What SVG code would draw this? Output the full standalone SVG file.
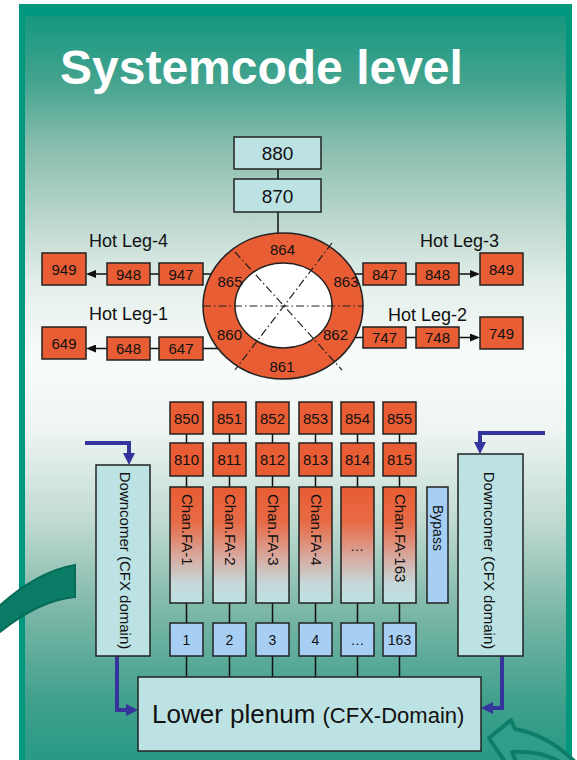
<svg xmlns="http://www.w3.org/2000/svg" width="577" height="760" viewBox="0 0 577 760">
<defs>
<linearGradient id="bg" gradientUnits="userSpaceOnUse" x1="0" y1="16" x2="0" y2="760">
<stop offset="0" stop-color="#16977f"/>
<stop offset="0.09" stop-color="#45a48f"/>
<stop offset="0.17" stop-color="#86bcad"/>
<stop offset="0.26" stop-color="#b4d3c9"/>
<stop offset="0.36" stop-color="#e4efeb"/>
<stop offset="0.46" stop-color="#f8fbfa"/>
<stop offset="0.55" stop-color="#f0f6f4"/>
<stop offset="0.68" stop-color="#c0dad1"/>
<stop offset="0.8" stop-color="#7cb7a8"/>
<stop offset="0.92" stop-color="#40a08c"/>
<stop offset="1" stop-color="#289a85"/>
</linearGradient>
<linearGradient id="chan" x1="0" y1="0" x2="0" y2="1">
<stop offset="0" stop-color="#e85d33"/>
<stop offset="0.3" stop-color="#e76a45"/>
<stop offset="0.6" stop-color="#d8a89e"/>
<stop offset="0.82" stop-color="#c6d6d6"/>
<stop offset="1" stop-color="#bde2e4"/>
</linearGradient>
<marker id="blk" viewBox="0 0 10 8" refX="1" refY="4" markerWidth="10" markerHeight="8" markerUnits="userSpaceOnUse" orient="auto">
<path d="M0,0 L10,4 L0,8 z" fill="#111"/>
</marker>
<marker id="blu" viewBox="0 0 12 12" refX="2" refY="6" markerWidth="12" markerHeight="12" markerUnits="userSpaceOnUse" orient="auto">
<path d="M0,0 L12,6 L0,12 z" fill="#34349c"/>
</marker>
<style>
text{font-family:"Liberation Sans",Arial,sans-serif;fill:#111}
.or{fill:#e85d34;stroke:#222;stroke-width:1.5}
.cy{fill:#bde2e4;stroke:#222;stroke-width:1.5}
.lb{fill:#a7cff4;stroke:#222;stroke-width:1.5}
.ch{fill:url(#chan);stroke:#222;stroke-width:1.5}
.n15{font-size:15px;text-anchor:middle}
.n14{font-size:14px;text-anchor:middle}
.lbl{font-size:18px}
.ln{stroke:#111;stroke-width:1.5;fill:none}
.dd{stroke:#222;stroke-width:1.2;stroke-dasharray:8 3 1.5 3;fill:none}
.bl{stroke:#34349c;stroke-width:4;fill:none;marker-end:url(#blu)}
.vt{font-size:15px}
</style>
</defs>
<rect x="0" y="0" width="577" height="760" fill="#ffffff"/>
<rect x="19" y="4" width="553" height="770" fill="#00977f"/>
<rect x="25" y="16" width="541" height="760" fill="url(#bg)"/>
<text x="60" y="84" style="font-size:48px;font-weight:bold;fill:#ffffff">Systemcode level</text>

<g id="connectors">
<path class="ln" d="M278,169 V179 M278,212 V233"/>
<path class="ln" d="M203,274 H211 M150,274 H159"/>
<path class="ln" d="M107,274 H95" marker-end="url(#blk)"/>
<path class="ln" d="M203,348.5 H218 M150,348.5 H159"/>
<path class="ln" d="M107,348.5 H95" marker-end="url(#blk)"/>
<path class="ln" d="M355,274 H363 M406,274 H416"/>
<path class="ln" d="M459,274 H471" marker-end="url(#blk)"/>
<path class="ln" d="M355,337.5 H363 M406,337.5 H416"/>
<path class="ln" d="M459,337.5 H471" marker-end="url(#blk)"/>
<path class="ln" d="M186.5,434 V443 M186.5,476 V487 M186.5,603 V623 M186.5,656 V677"/>
<path class="ln" d="M229.5,434 V443 M229.5,476 V487 M229.5,603 V623 M229.5,656 V677"/>
<path class="ln" d="M272.5,434 V443 M272.5,476 V487 M272.5,603 V623 M272.5,656 V677"/>
<path class="ln" d="M315.5,434 V443 M315.5,476 V487 M315.5,603 V623 M315.5,656 V677"/>
<path class="ln" d="M357.5,434 V443 M357.5,476 V487 M357.5,603 V623 M357.5,656 V677"/>
<path class="ln" d="M399.5,434 V443 M399.5,476 V487 M399.5,603 V623 M399.5,656 V677"/>
<path class="bl" d="M85,443 H129 V455"/>
<path class="bl" d="M545,433 H480 V444"/>
<path class="bl" d="M117,656 V710 H128"/>
<path class="bl" d="M502,656 V708 H491"/>
</g>

<g id="n880"><rect class="cy" x="234" y="137" width="87" height="32"/><text class="n15" x="277.5" y="160" style="font-size:19px">880</text></g>
<g id="n870"><rect class="cy" x="234" y="179" width="87" height="33"/><text class="n15" x="277.5" y="202.5" style="font-size:19px">870</text></g>

<g id="ring">
<ellipse cx="283" cy="306" rx="80" ry="73" fill="#e85d34" stroke="#222" stroke-width="1.5"/>
<ellipse cx="283.5" cy="305.5" rx="48.5" ry="42.5" fill="#ffffff" stroke="#222" stroke-width="1.5"/>
<path class="dd" d="M203,306 H363 M235,252 L342,370 M332,243 L235,370"/>
<text class="n15" x="282.5" y="255">864</text>
<text class="n15" x="230" y="287">865</text>
<text class="n15" x="346" y="287">863</text>
<text class="n15" x="229.5" y="340">860</text>
<text class="n15" x="335.5" y="340">862</text>
<text class="n15" x="282" y="372">861</text>
</g>

<text class="lbl" x="89" y="247">Hot Leg-4</text>
<text class="lbl" x="89" y="320">Hot Leg-1</text>
<text class="lbl" x="420" y="247">Hot Leg-3</text>
<text class="lbl" x="388" y="321">Hot Leg-2</text>

<g id="n949"><rect class="or" x="42" y="253" width="44" height="32"/><text class="n15" x="64" y="274.5">949</text></g>
<g id="n948"><rect class="or" x="107" y="263" width="43" height="22"/><text class="n15" x="128.5" y="279.5">948</text></g>
<g id="n947"><rect class="or" x="159" y="263" width="44" height="22"/><text class="n15" x="181" y="279.5">947</text></g>
<g id="n649"><rect class="or" x="42" y="327" width="44" height="32"/><text class="n15" x="64" y="348.5">649</text></g>
<g id="n648"><rect class="or" x="107" y="337" width="43" height="23"/><text class="n15" x="128.5" y="354">648</text></g>
<g id="n647"><rect class="or" x="159" y="337" width="44" height="23"/><text class="n15" x="181" y="354">647</text></g>
<g id="n847"><rect class="or" x="363" y="263" width="43" height="22"/><text class="n15" x="384.5" y="279.5">847</text></g>
<g id="n848"><rect class="or" x="416" y="263" width="43" height="22"/><text class="n15" x="437.5" y="279.5">848</text></g>
<g id="n849"><rect class="or" x="480" y="253" width="43" height="32"/><text class="n15" x="501.5" y="274.5">849</text></g>
<g id="n747"><rect class="or" x="363" y="327" width="43" height="21"/><text class="n15" x="384.5" y="343">747</text></g>
<g id="n748"><rect class="or" x="416" y="327" width="43" height="21"/><text class="n15" x="437.5" y="343">748</text></g>
<g id="n749"><rect class="or" x="480" y="317" width="43" height="32"/><text class="n15" x="501.5" y="338.5">749</text></g>

<g id="n850"><rect class="or" x="170" y="402" width="33" height="32"/><text class="n15" x="186.5" y="423.5">850</text></g>
<g id="n851"><rect class="or" x="213" y="402" width="33" height="32"/><text class="n15" x="229.5" y="423.5">851</text></g>
<g id="n852"><rect class="or" x="256" y="402" width="33" height="32"/><text class="n15" x="272.5" y="423.5">852</text></g>
<g id="n853"><rect class="or" x="299" y="402" width="33" height="32"/><text class="n15" x="315.5" y="423.5">853</text></g>
<g id="n854"><rect class="or" x="341" y="402" width="33" height="32"/><text class="n15" x="357.5" y="423.5">854</text></g>
<g id="n855"><rect class="or" x="383" y="402" width="33" height="32"/><text class="n15" x="399.5" y="423.5">855</text></g>

<g id="n810"><rect class="or" x="170" y="443" width="33" height="33"/><text class="n15" x="186.5" y="465">810</text></g>
<g id="n811"><rect class="or" x="213" y="443" width="33" height="33"/><text class="n15" x="229.5" y="465">811</text></g>
<g id="n812"><rect class="or" x="256" y="443" width="33" height="33"/><text class="n15" x="272.5" y="465">812</text></g>
<g id="n813"><rect class="or" x="299" y="443" width="33" height="33"/><text class="n15" x="315.5" y="465">813</text></g>
<g id="n814"><rect class="or" x="341" y="443" width="33" height="33"/><text class="n15" x="357.5" y="465">814</text></g>
<g id="n815"><rect class="or" x="383" y="443" width="33" height="33"/><text class="n15" x="399.5" y="465">815</text></g>

<g id="chan1"><rect class="ch" x="170" y="487" width="33" height="116"/><text class="vt" transform="translate(182,494) rotate(90)">Chan.FA-1</text></g>
<g id="chan2"><rect class="ch" x="213" y="487" width="33" height="116"/><text class="vt" transform="translate(225,494) rotate(90)">Chan.FA-2</text></g>
<g id="chan3"><rect class="ch" x="256" y="487" width="33" height="116"/><text class="vt" transform="translate(268,494) rotate(90)">Chan.FA-3</text></g>
<g id="chan4"><rect class="ch" x="299" y="487" width="33" height="116"/><text class="vt" transform="translate(311,494) rotate(90)">Chan.FA-4</text></g>
<g id="chan5"><rect class="ch" x="341" y="487" width="33" height="116"/><text class="n14" x="357" y="551">…</text></g>
<g id="chan163"><rect class="ch" x="383" y="487" width="33" height="116"/><text class="vt" transform="translate(395,494) rotate(90)">Chan.FA-163</text></g>

<g id="bypass"><rect class="lb" x="427" y="487" width="21" height="116"/><text style="font-size:14px" transform="translate(433,505) rotate(90)">Bypass</text></g>

<g id="b1"><rect class="lb" x="170" y="623" width="33" height="33"/><text class="n14" x="186.5" y="644.5">1</text></g>
<g id="b2"><rect class="lb" x="213" y="623" width="33" height="33"/><text class="n14" x="229.5" y="644.5">2</text></g>
<g id="b3"><rect class="lb" x="256" y="623" width="33" height="33"/><text class="n14" x="272.5" y="644.5">3</text></g>
<g id="b4"><rect class="lb" x="299" y="623" width="33" height="33"/><text class="n14" x="315.5" y="644.5">4</text></g>
<g id="b5"><rect class="lb" x="341" y="623" width="33" height="33"/><text class="n14" x="357.5" y="644.5">…</text></g>
<g id="b163"><rect class="lb" x="383" y="623" width="33" height="33"/><text class="n14" x="399.5" y="644.5">163</text></g>

<g id="downcomerL"><rect class="cy" x="96" y="465" width="54" height="191"/><text class="vt" text-anchor="middle" transform="translate(120,560.5) rotate(90)">Downcomer (CFX domain)</text></g>
<g id="downcomerR"><rect class="cy" x="458" y="454" width="65" height="202"/><text class="vt" text-anchor="middle" transform="translate(484,560.5) rotate(90)">Downcomer (CFX domain)</text></g>

<g id="plenum"><rect class="cy" x="138" y="677" width="343" height="74"/><text x="152" y="723" style="font-size:26px">Lower plenum <tspan style="font-size:22px">(CFX-Domain)</tspan></text></g>

<path d="M75,565 L75,597 Q40,600 0,632 L-5,636 L-5,610 Q35,572 75,565 Z" fill="#0a7c66" stroke="#076b58" stroke-width="2"/>
<path d="M489,738 L511,720 L515,729 Q548,735 575,762 L560,762 Q540,750 512,752 L516,762 L505,762 Z" fill="#2e9f8a" stroke="#0e7d69" stroke-width="4" stroke-linejoin="round"/>
</svg>
